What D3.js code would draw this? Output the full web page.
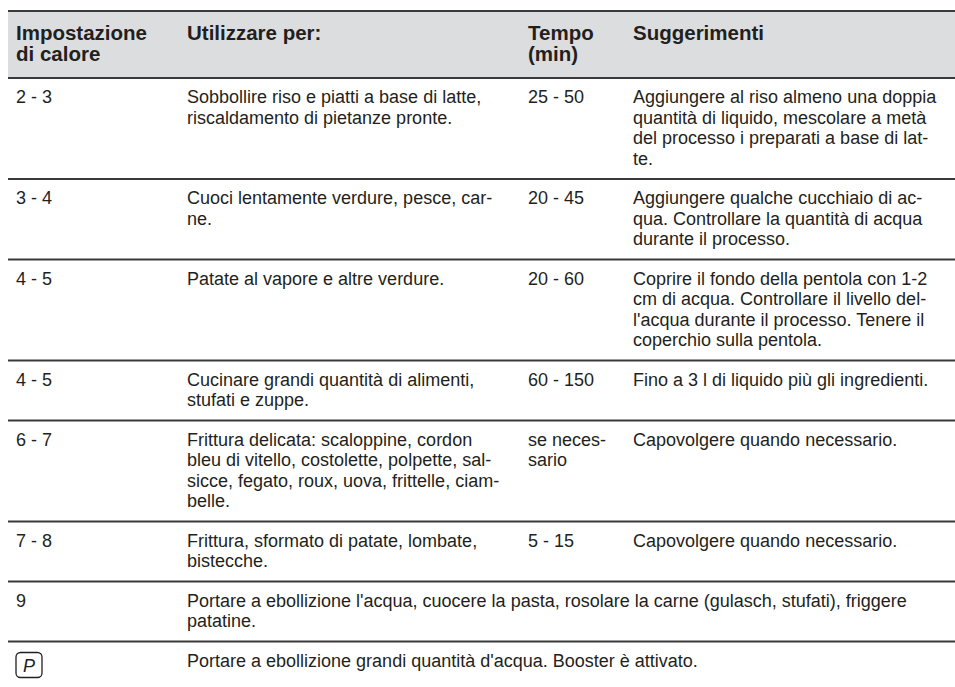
<!DOCTYPE html>
<html><head><meta charset="utf-8">
<script src="https://cdn.jsdelivr.net/npm/d3@7"></script>
<style>html,body{margin:0;padding:0;background:#fff;}svg{display:block;}</style>
</head><body><svg id="c" width="955" height="687"></svg>
<script>
const headers = [["Impostazione","di calore"],["Utilizzare per:"],["Tempo","(min)"],["Suggerimenti"]];
const settings = ["2 - 3","3 - 4","4 - 5","4 - 5","6 - 7","7 - 8","9","P"];
const uses = [
  ["Sobbollire riso e piatti a base di latte,","riscaldamento di pietanze pronte."],
  ["Cuoci lentamente verdure, pesce, car-","ne."],
  ["Patate al vapore e altre verdure."],
  ["Cucinare grandi quantità di alimenti,","stufati e zuppe."],
  ["Frittura delicata: scaloppine, cordon","bleu di vitello, costolette, polpette, sal-","sicce, fegato, roux, uova, frittelle, ciam-","belle."],
  ["Frittura, sformato di patate, lombate,","bistecche."],
  ["Portare a ebollizione l'acqua, cuocere la pasta, rosolare la carne (gulasch, stufati), friggere","patatine."],
  ["Portare a ebollizione grandi quantità d'acqua. Booster è attivato."]
];
const times = [["25 - 50"],["20 - 45"],["20 - 60"],["60 - 150"],["se neces-","sario"],["5 - 15"],null,null];
const tips = [
  ["Aggiungere al riso almeno una doppia","quantità di liquido, mescolare a metà","del processo i preparati a base di lat-","te."],
  ["Aggiungere qualche cucchiaio di ac-","qua. Controllare la quantità di acqua","durante il processo."],
  ["Coprire il fondo della pentola con 1-2","cm di acqua. Controllare il livello del-","l'acqua durante il processo. Tenere il","coperchio sulla pentola."],
  ["Fino a 3 l di liquido più gli ingredienti."],
  ["Capovolgere quando necessario."],
  ["Capovolgere quando necessario."],
  null,null
];

const W = 955, tLeft = 8, tTop = 11;
const fs = 18, hfs = 20.5, lh = 20.5, pad = 19, headH = 67;
const txt = "#231f20", rule = "#3a3a3a", headBg = "#dcdddf";
const colX = d3.scaleOrdinal().domain([0,1,2,3]).range([16,187,528,633]);
const svg = d3.select("#c");
const font = "'Liberation Sans', Arial, Helvetica, sans-serif";

const rows = settings.map((s,i)=>{
  const cells = [[s], uses[i], times[i], tips[i]];
  const n = d3.max(cells, c => c ? c.length : 0);
  return {i, cells, n, h: lh*n + pad};
});
let yy = tTop + headH;
rows.forEach(r => { r.y = yy; yy += r.h; });

svg.append("rect").attr("x",tLeft).attr("y",tTop).attr("width",W-tLeft).attr("height",headH).attr("fill",headBg);
svg.append("line").attr("x1",tLeft).attr("x2",W).attr("y1",tTop).attr("y2",tTop).attr("stroke",rule).attr("stroke-width",2);
const hg = svg.append("g");
headers.forEach((lines,ci)=>{
  hg.append("text").attr("font-family",font).attr("font-weight","bold").attr("font-size",hfs).attr("fill",txt)
    .selectAll("tspan").data(lines).join("tspan")
    .attr("x",colX(ci)).attr("y",(d,k)=> tTop + 28.5 + k*21).text(d=>d);
});

const rg = svg.selectAll("g.row").data(rows).join("g").attr("class","row");
rg.append("line").attr("x1",tLeft).attr("x2",W).attr("y1",d=>d.y).attr("y2",d=>d.y).attr("stroke",rule).attr("stroke-width",2);
rg.each(function(r){
  const g = d3.select(this);
  r.cells.forEach((lines,ci)=>{
    if(!lines) return;
    if(ci===0 && lines[0]==="P"){
      const bx = colX(0), by = r.y+11;
      g.append("rect").attr("x",bx).attr("y",by).attr("width",26).attr("height",25).attr("rx",4.5)
        .attr("fill","none").attr("stroke",txt).attr("stroke-width",1.3);
      g.append("text").attr("x",bx+13).attr("y",by+19).attr("text-anchor","middle")
        .attr("font-family",font).attr("font-style","italic").attr("font-size",18).attr("fill",txt)
        .attr("font-weight","300").text("P");
      return;
    }
    g.append("text").attr("font-family",font).attr("font-size",fs).attr("fill",txt)
      .selectAll("tspan").data(lines).join("tspan")
      .attr("x",colX(ci)).attr("y",(d,k)=> r.y + 25 + k*lh).text(d=>d);
  });
});
</script></body></html>
